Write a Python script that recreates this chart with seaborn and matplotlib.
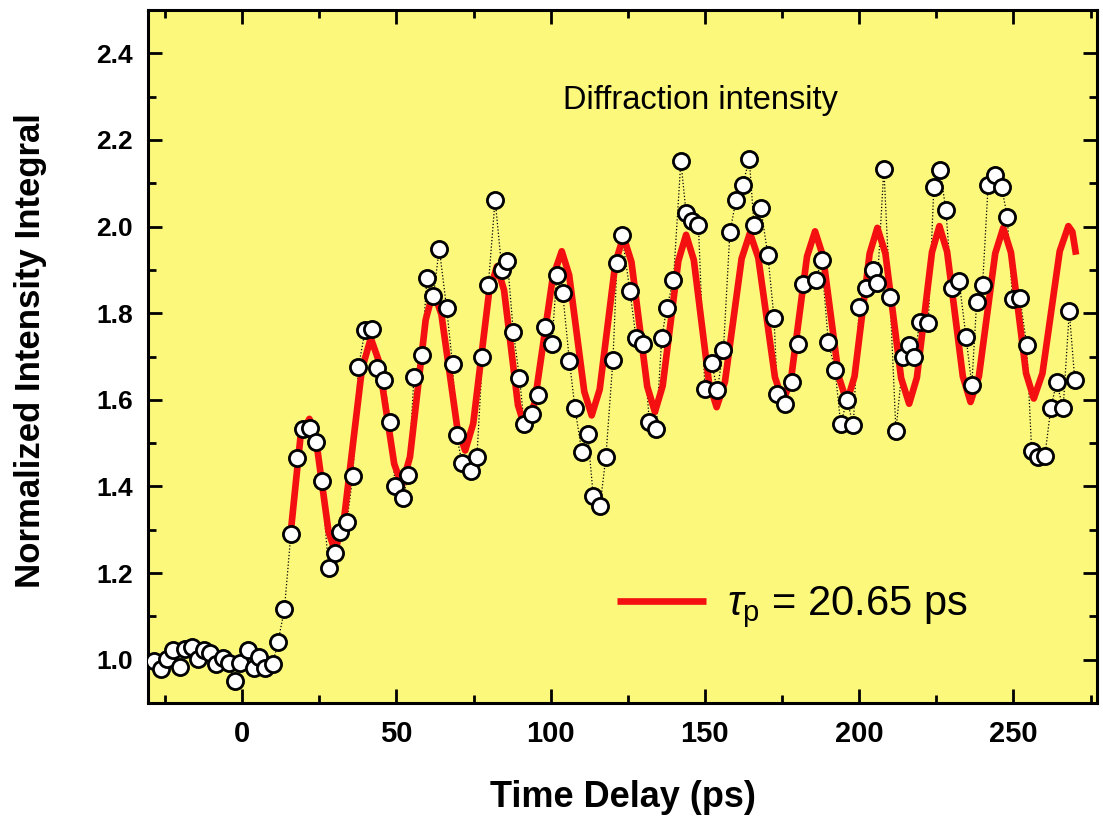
import numpy as np
import pandas as pd
import matplotlib
matplotlib.use("Agg")
import matplotlib.pyplot as plt
import seaborn as sns
from matplotlib.ticker import MultipleLocator

# ---------------- data ----------------
time_ps = [
    -28.7, -26.3, -24.2, -22.3, -20.1, -18.5, -16.3, -14.2, -12.5, -10.4,
    -8.4, -6.3, -4.4, -2.3, -0.6, 2.0, 3.7, 5.6, 7.5, 9.9,
    11.6, 13.7, 15.8, 17.7, 19.7, 22.0, 24.0, 25.8, 28.0, 30.1,
    31.8, 33.9, 35.9, 37.7, 39.9, 42.0, 43.6, 46.0, 48.0, 49.6,
    52.1, 53.9, 55.7, 58.2, 59.9, 62.0, 63.9, 66.3, 68.2, 69.5,
    71.3, 74.1, 76.1, 77.9, 79.8, 82.0, 84.2, 86.0, 87.9, 89.9,
    91.4, 93.9, 96.0, 98.2, 100.4, 102.0, 103.9, 106.1, 107.9, 110.1,
    112.0, 113.8, 116.0, 117.9, 120.2, 121.5, 123.1, 125.7, 127.7, 130.0,
    132.0, 134.2, 136.0, 137.6, 139.8, 142.2, 143.9, 145.7, 147.9, 150.0,
    152.2, 154.0, 156.0, 158.1, 160.1, 162.2, 164.4, 165.9, 168.1, 170.4,
    172.4, 173.5, 176.0, 178.1, 180.3, 181.9, 186.0, 187.8, 190.0, 192.2,
    194.0, 196.1, 198.1, 200.0, 202.2, 204.4, 205.9, 208.0, 210.0, 211.9,
    214.3, 216.2, 217.8, 219.7, 222.4, 224.2, 226.2, 228.1, 230.0, 232.4,
    234.6, 236.5, 238.1, 240.0, 241.8, 244.0, 246.2, 248.0, 249.7, 252.1,
    254.3, 255.9, 258.0, 260.2, 262.1, 264.0, 266.1, 268.1, 269.9,
]
intensity = [
    0.996, 0.978, 1.002, 1.023, 0.984, 1.025, 1.029, 1.002, 1.022, 1.016,
    0.991, 1.004, 0.992, 0.950, 0.992, 1.022, 0.981, 1.006, 0.981, 0.991,
    1.040, 1.116, 1.290, 1.465, 1.533, 1.535, 1.502, 1.413, 1.211, 1.246,
    1.294, 1.317, 1.424, 1.676, 1.761, 1.763, 1.674, 1.645, 1.549, 1.400,
    1.373, 1.427, 1.653, 1.703, 1.881, 1.840, 1.949, 1.811, 1.682, 1.518,
    1.454, 1.436, 1.468, 1.699, 1.865, 2.062, 1.900, 1.920, 1.757, 1.651,
    1.545, 1.568, 1.612, 1.767, 1.730, 1.889, 1.846, 1.689, 1.580, 1.479,
    1.522, 1.379, 1.355, 1.468, 1.693, 1.916, 1.981, 1.851, 1.742, 1.730,
    1.549, 1.533, 1.743, 1.811, 1.877, 2.151, 2.032, 2.014, 2.004, 1.624,
    1.686, 1.622, 1.715, 1.987, 2.062, 2.096, 2.155, 2.004, 2.043, 1.935,
    1.789, 1.614, 1.591, 1.640, 1.728, 1.867, 1.877, 1.923, 1.734, 1.668,
    1.545, 1.599, 1.541, 1.815, 1.858, 1.900, 1.869, 2.134, 1.838, 1.529,
    1.699, 1.726, 1.699, 1.780, 1.777, 2.091, 2.130, 2.039, 1.858, 1.875,
    1.746, 1.635, 1.827, 1.865, 2.096, 2.120, 2.091, 2.022, 1.833, 1.836,
    1.726, 1.483, 1.468, 1.471, 1.580, 1.641, 1.580, 1.804, 1.645,
]

# fitted oscillation (extremes and shoulders)
fit_time_ps = [
    15.8, 19.0, 21.8, 23.9, 28.0, 30.1, 33.0, 38.8, 41.7, 44.2,
    49.3, 51.8, 54.4, 59.5, 62.0, 64.6, 69.7, 72.3, 74.9, 80.0,
    82.6, 84.9, 89.4, 91.8, 94.8, 100.7, 103.6, 106.0, 110.9, 113.3,
    115.9, 121.0, 123.6, 126.2, 131.3, 133.8, 136.3, 141.4, 143.9, 146.4,
    151.3, 153.8, 156.5, 161.9, 164.6, 167.3, 172.7, 175.4, 178.0, 183.1,
    185.7, 188.3, 193.4, 196.0, 198.5, 203.4, 205.9, 208.5, 213.6, 216.2,
    218.7, 223.6, 226.0, 228.5, 233.6, 236.1, 238.8, 244.1, 246.7, 249.2,
    254.1, 256.6, 259.4, 265.0, 267.8, 269.1, 270.3,
]
fit_intensity = [
    1.297, 1.520, 1.556, 1.511, 1.296, 1.251, 1.323, 1.670, 1.742, 1.692,
    1.452, 1.402, 1.468, 1.785, 1.851, 1.797, 1.537, 1.483, 1.545, 1.846,
    1.908, 1.853, 1.588, 1.533, 1.593, 1.883, 1.943, 1.888, 1.619, 1.564,
    1.624, 1.917, 1.977, 1.918, 1.631, 1.572, 1.632, 1.921, 1.981, 1.923,
    1.641, 1.583, 1.642, 1.926, 1.985, 1.928, 1.652, 1.595, 1.653, 1.931,
    1.989, 1.931, 1.653, 1.595, 1.654, 1.938, 1.997, 1.938, 1.650, 1.591,
    1.651, 1.941, 2.001, 1.942, 1.654, 1.595, 1.654, 1.938, 1.997, 1.940,
    1.661, 1.603, 1.661, 1.943, 2.001, 1.988, 1.935,
]

x_ticks = [0, 50, 100, 150, 200, 250]
y_ticks = [1.0, 1.2, 1.4, 1.6, 1.8, 2.0, 2.2, 2.4]
x_label = "Time Delay (ps)"
y_label = "Normalized Intensity Integral"
annotation = "Diffraction intensity"
fit_label = r"$\tau_{\mathrm{p}}$ = 20.65 ps"

# ---------------- style ----------------
sns.set_style("ticks")
plt.rcParams["font.family"] = ["Liberation Sans", "DejaVu Sans"]
plt.rcParams["mathtext.fontset"] = "custom"
plt.rcParams["mathtext.rm"] = "Liberation Sans"
plt.rcParams["mathtext.it"] = "Liberation Sans:italic"
plt.rcParams["text.color"] = "black"
plt.rcParams["axes.labelcolor"] = "black"
plt.rcParams["xtick.color"] = "black"
plt.rcParams["ytick.color"] = "black"
plt.rcParams["xtick.labelcolor"] = "black"
plt.rcParams["ytick.labelcolor"] = "black"

fig, ax = plt.subplots(figsize=(11.03, 8.19), dpi=100)
fig.subplots_adjust(left=0.1342, right=0.9946, top=0.9878, bottom=0.1416)
fig.patch.set_facecolor("white")
ax.set_facecolor("#FCF87C")

data = pd.DataFrame({"t": time_ps, "I": intensity})
fit = pd.DataFrame({"t": fit_time_ps, "I": fit_intensity})

sns.lineplot(data=data, x="t", y="I", sort=False, estimator=None, color="black",
             linewidth=0.9, linestyle=(0, (1, 1.6)), ax=ax, zorder=2)
sns.lineplot(data=fit, x="t", y="I", sort=False, estimator=None, color="#F41010",
             linewidth=4.8, ax=ax, zorder=3, label=fit_label,
             solid_joinstyle="round", solid_capstyle="butt")
sns.scatterplot(data=data, x="t", y="I", s=135, color="white", edgecolor="black",
                linewidth=2.0, ax=ax, zorder=4)

ax.set_xlim(-30.5, 277.1)
ax.set_ylim(0.9, 2.5)

ax.set_xticks(x_ticks)
ax.set_xticklabels([str(v) for v in x_ticks])
ax.set_yticks(y_ticks)
ax.set_yticklabels([f"{v:.1f}" for v in y_ticks])
ax.xaxis.set_minor_locator(MultipleLocator(25))
ax.yaxis.set_minor_locator(MultipleLocator(0.1))

ax.tick_params(which="both", direction="in", top=True, right=True, width=2.0,
               color="black", labelcolor="black")
ax.tick_params(which="major", length=10)
ax.tick_params(which="minor", length=5.5)
ax.tick_params(axis="x", which="major", labelsize=21, pad=12)
ax.tick_params(axis="y", which="major", labelsize=19, pad=11)
for lab in ax.get_xticklabels() + ax.get_yticklabels():
    lab.set_fontweight("bold")
    lab.set_color("black")

for sp in ax.spines.values():
    sp.set_linewidth(2.2)
    sp.set_color("black")
    sp.set_visible(True)

ax.set_xlabel(x_label, fontsize=26, fontweight="bold", color="black")
ax.set_ylabel(y_label, fontsize=25, fontweight="bold", color="black")
ax.xaxis.set_label_coords(0.50, -0.1356)
ax.xaxis.label.set_va("center")
ax.yaxis.set_label_coords(-0.1243, 0.509)
ax.yaxis.label.set_va("center")

ax.text(0.5817, 0.870, annotation, transform=ax.transAxes, fontsize=23.5,
        ha="center", va="center", color="black")

leg = ax.legend(loc="center left", bbox_to_anchor=(0.494, 0.1385), frameon=False,
                fontsize=30, handlelength=2.15, handletextpad=0.5, borderpad=0,
                borderaxespad=0, labelcolor="black")

fig.savefig("out.png", dpi=100)
